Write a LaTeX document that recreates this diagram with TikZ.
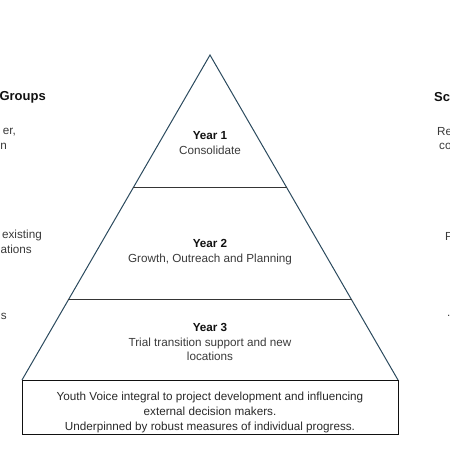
\documentclass[tikz,border=0pt]{standalone}
\usepackage{fontspec}
\setsansfont{Liberation Sans}
\usepackage{tikz}
\usetikzlibrary{calc,positioning}
\definecolor{PyramidEdge}{HTML}{2B4A5E}
\definecolor{TierInk}{HTML}{3A3A3A}
\definecolor{TitleInk}{HTML}{111111}

\tikzset{
  pyramid edge/.style={draw=PyramidEdge,line width=1pt,line join=miter},
  tier line/.style={draw=TitleInk!85,line width=1pt},
  tier text/.style={align=center,text=TierInk,inner sep=0pt,
    font=\fontsize{11.7}{14.8}\selectfont\sffamily},
  side text/.style={text=TierInk,inner sep=0pt,
    font=\fontsize{11.7}{14.8}\selectfont\sffamily},
  side title/.style={text=TitleInk,inner sep=0pt,
    font=\fontsize{13}{15}\selectfont\sffamily\bfseries}
}

\begin{document}
\begin{tikzpicture}[x=1pt,y=-1pt,font=\sffamily]
      \useasboundingbox (0,0) rectangle (450,450);
      % pyramid outline
      \coordinate (apex) at (210,55);
      \coordinate (baseL) at (22,380);
      \coordinate (baseR) at (398,380);
      \coordinate (cutAL) at ($(apex)!0.4092!(baseL)$);
      \coordinate (cutAR) at ($(apex)!0.4092!(baseR)$);
      \coordinate (cutBL) at ($(apex)!0.7538!(baseL)$);
      \coordinate (cutBR) at ($(apex)!0.7538!(baseR)$);
      \coordinate (boxSE) at (398,434);
      \draw[pyramid edge] (baseL) -- (apex) -- (baseR);
      \draw[tier line] (cutAL) -- (cutAR);
      \draw[tier line] (cutBL) -- (cutBR);
      \draw[draw=TitleInk,line width=1pt] (baseL) rectangle (boxSE);

      % tiers
      \node[tier text] (yearOne) at (210,143)
        {\textbf{\textcolor{TitleInk}{Year 1}}\\Consolidate};
      \node[tier text] (yearTwo) at (210,252)
        {\textbf{\textcolor{TitleInk}{Year 2}}\\Growth, Outreach and Planning};
      \node[tier text] (yearThree) at (210,342)
        {\textbf{\textcolor{TitleInk}{Year 3}}\\Trial transition support and new\\locations};
      \node[tier text,text=TitleInk!90] (foundation) at (210,412.5)
        {Youth Voice integral to project development and influencing\\
         external decision makers.\\
         Underpinned by robust measures of individual progress.};

      % side columns (cut by the frame)
      \node[side title,anchor=east] (groupsHead) at (46,97) {Groups};
      \node[side text,anchor=east] (groupsA) at (16,132) {er,};
      \node[side text,anchor=east] (groupsB) at (7,146) {n};
      \node[side text,anchor=east] (groupsC) at (42,235) {existing};
      \node[side text,anchor=east] (groupsD) at (32,249) {ations};
      \node[side text,anchor=east] (groupsE) at (7,316) {s};
      \node[side title,anchor=west] (schoolsHead) at (434,97) {Sc};
      \node[side text,anchor=west] (schoolsA) at (437,132) {Re};
      \node[side text,anchor=west] (schoolsB) at (439,146) {co};
      \node[side text,anchor=west] (schoolsC) at (445,236) {P};
      \node[side text,anchor=west] (schoolsD) at (447,316) {.};
    \end{tikzpicture}
\end{document}
